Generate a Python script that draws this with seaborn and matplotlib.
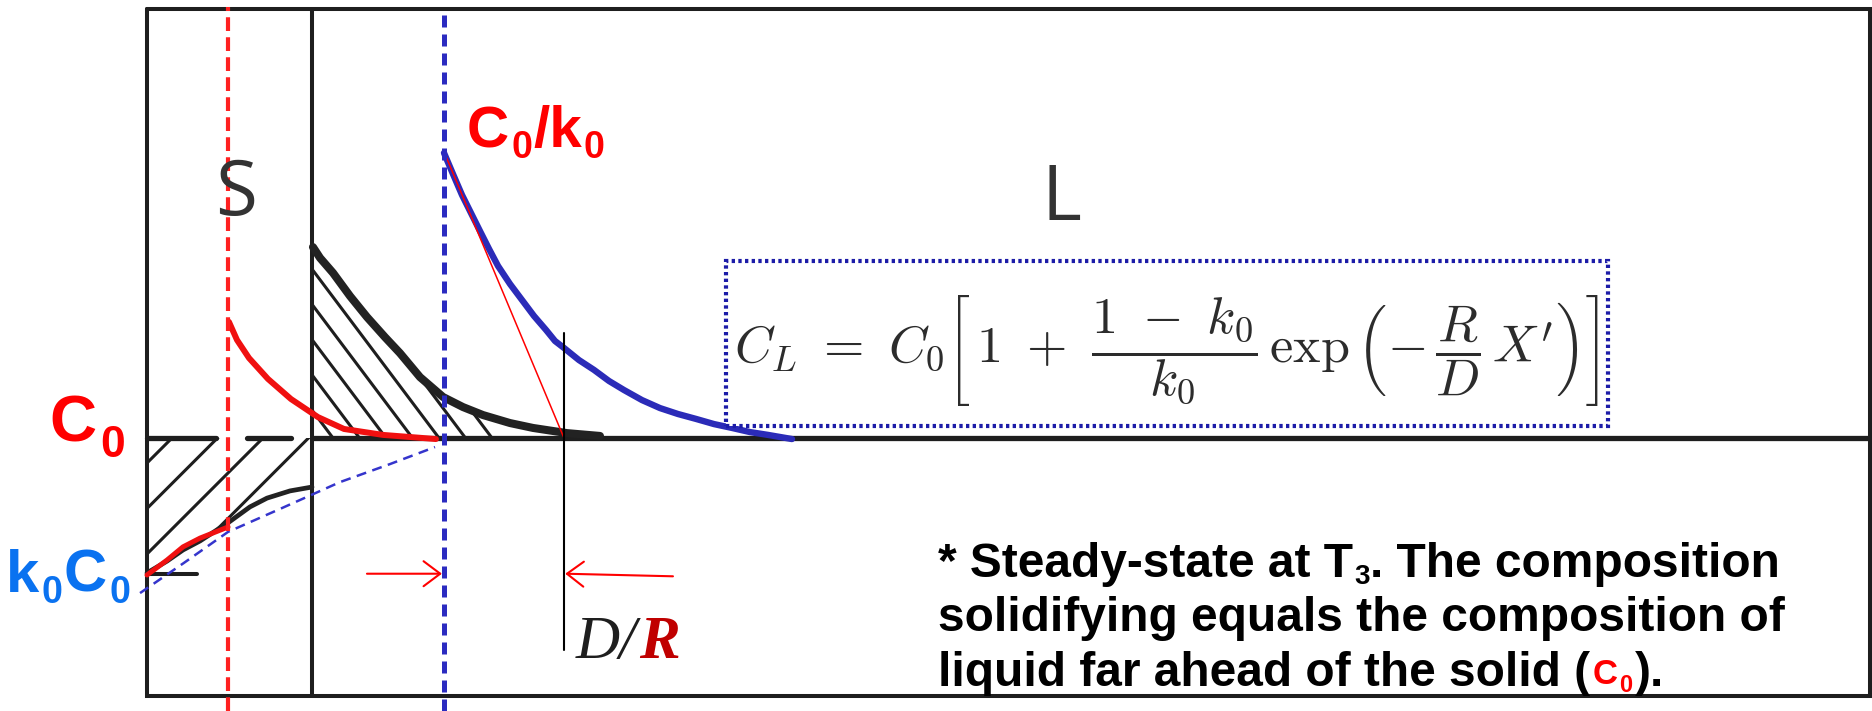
import numpy as np
import matplotlib
matplotlib.use("Agg")
import matplotlib.pyplot as plt
from matplotlib.patches import Rectangle
import seaborn as sns

# Concentration profiles for steady-state solidification.
# Distance X' is measured from the solid/liquid interface in units of D/R,
# concentration is given in units of the alloy composition C0.
C0 = 1.0
k0 = 0.474

# steady-state liquid profile ahead of the interface
liquid_x = [0.0, 0.075, 0.15, 0.225, 0.30, 0.375, 0.45, 0.55, 0.65, 0.75, 0.85, 0.925, 1.00,
            1.125, 1.25, 1.375, 1.50, 1.65, 1.80, 1.95, 2.10, 2.25, 2.40, 2.55, 2.70, 2.90]
liquid_c = [2.105, 2.023, 1.942, 1.872, 1.802, 1.733, 1.667, 1.597, 1.535, 1.473, 1.419, 1.376, 1.349,
            1.302, 1.264, 1.221, 1.186, 1.147, 1.116, 1.093, 1.074, 1.054, 1.039, 1.023, 1.012, 0.996]

# boundary layer drawn in the original sketch (hatched)
layer_x = [-1.092, -1.033, -0.925, -0.783, -0.642, -0.492, -0.367, -0.200, -0.008, 0.158, 0.325, 0.550, 0.742, 1.025, 1.300]
layer_c = [1.740, 1.698, 1.640, 1.550, 1.469, 1.391, 1.329, 1.236, 1.159, 1.120, 1.089, 1.058, 1.039, 1.019, 1.008]

# liquid profile ahead of the earlier interface position
earlier_x = [-1.792, -1.725, -1.625, -1.467, -1.275, -1.050, -0.833, -0.508, -0.067]
earlier_c = [1.450, 1.380, 1.310, 1.229, 1.151, 1.081, 1.035, 1.012, 0.996]

# composition of the solid during the initial transient
solid_red_x = [-2.475, -2.308, -2.175, -2.033, -1.800]
solid_red_c = [0.469, 0.527, 0.578, 0.612, 0.655]
solid_black_x = [-2.475, -2.308, -2.175, -2.033, -1.792, -1.617, -1.475, -1.283, -1.100]
solid_black_c = [0.477, 0.523, 0.566, 0.601, 0.674, 0.733, 0.767, 0.795, 0.810]

# guide from k0C0 up to the interface
guide_x = [-2.533, -2.167, -1.800, -1.367, -0.867, -0.450, -0.075]
guide_c = [0.399, 0.516, 0.636, 0.725, 0.829, 0.899, 0.965]

# ---- layout of the sketch (same units) ----
X_LEFT, X_RIGHT, C_TOP = -2.475, 11.88, 2.663
X_OLD_FRONT = -1.10
X_MARK = -1.80
X_FRONT = 0.0
X_DR = 1.0
XLIM = (-3.7, 11.9)
YLIM = (-0.0581, 2.6977)
W, H = 1872, 711

sns.set_theme(style="white")
plt.rcParams["mathtext.fontset"] = "cm"
plt.rcParams["font.family"] = ["Liberation Sans", "DejaVu Sans"]

fig = plt.figure(figsize=(W / 100, H / 100), dpi=100)
fig.patch.set_facecolor("white")
ax = fig.add_axes([0, 0, 1, 1])
ax.set_xlim(*XLIM)
ax.set_ylim(*YLIM)
ax.axis("off")
renderer = fig.canvas.get_renderer()

INK = "#1e1e1e"

# frame and the old interface line
ax.plot([X_LEFT, X_RIGHT, X_RIGHT, X_LEFT, X_LEFT], [C_TOP, C_TOP, 0, 0, C_TOP],
        color=INK, lw=2.9, solid_joinstyle="miter", zorder=2)
ax.plot([X_OLD_FRONT, X_OLD_FRONT], [0, C_TOP], color=INK, lw=2.9, zorder=2)

# C0 level: broken inside the solid, continuous in the liquid
for a, b in [(X_LEFT, -1.90), (-1.642, -1.275), (X_OLD_FRONT, X_RIGHT)]:
    ax.plot([a, b], [C0, C0], color=INK, lw=3.8, zorder=2)
# k0C0 tick in the solid
ax.plot([X_LEFT, -2.058], [k0 * C0, k0 * C0], color=INK, lw=2.9, zorder=2)


def hatch(x, lower, upper, slope_px, spacing_px, start_px, count):
    """Parallel hatch lines clipped to the band between two profiles."""
    band = ax.fill_between(x, lower, upper, facecolor="none", edgecolor="none")
    clip = band.get_paths()[0]
    m = -slope_px * 120.0 / 258.0
    xs = np.array(XLIM)
    for i in range(count):
        x0 = (start_px + i * spacing_px - 444.0) / 120.0
        ln, = ax.plot(xs, C0 + m * (xs - x0), color=INK, lw=2.2, zorder=2)
        ln.set_clip_path(clip, ax.transData)


hatch(layer_x, [C0] * len(layer_x), layer_c, 1.33, 26.5, 333, 7)
hatch(solid_black_x, solid_black_c, [C0] * len(solid_black_x), -1.0, 45.5, 172, 4)

# profiles
sns.lineplot(x=layer_x, y=layer_c, ax=ax, color="#222222", linewidth=5.8,
             sort=False, estimator=None, solid_capstyle="round", zorder=3)
sns.lineplot(x=solid_black_x, y=solid_black_c, ax=ax, color="#222222", linewidth=3.4,
             sort=False, estimator=None, solid_capstyle="round", zorder=3)
sns.lineplot(x=earlier_x, y=earlier_c, ax=ax, color="#f01010", linewidth=4.3,
             sort=False, estimator=None, solid_capstyle="round", zorder=4)
sns.lineplot(x=solid_red_x, y=solid_red_c, ax=ax, color="#f01010", linewidth=3.6,
             sort=False, estimator=None, solid_capstyle="round", zorder=4)
sns.lineplot(x=liquid_x, y=liquid_c, ax=ax, color="#2b2bb8", linewidth=4.6,
             sort=False, estimator=None, solid_capstyle="round", zorder=4)
ax.plot(guide_x, guide_c, color="#3535cc", lw=1.8, dashes=(4, 2.6), zorder=4)

# tangent at the interface reaching C0 after D/R
ax.plot([X_FRONT, X_DR], [C0 / k0, C0], color="#ff0000", lw=1.1, zorder=5)

# vertical markers
ax.plot([X_MARK, X_MARK], [YLIM[0], 2.671], color="#ff2020", lw=3.0, dashes=(3.3, 1.5), zorder=5)
ax.plot([X_FRONT, X_FRONT], [YLIM[0], 2.647], color="#2b2bc0", lw=3.6, dashes=(2.4, 1.4), zorder=5)
ax.plot([X_DR, X_DR], [0.178, 1.407], color="black", lw=1.5, zorder=5)

# D/R dimension arrows
arrow = dict(arrowstyle="->,head_length=0.6,head_width=0.45", color="#ff0000",
             lw=1.5, mutation_scale=20, shrinkA=0, shrinkB=0)
ax.annotate("", xy=(X_FRONT - 0.017, k0 * C0), xytext=(-0.642, k0 * C0), arrowprops=arrow, zorder=6)
ax.annotate("", xy=(X_DR + 0.01, k0 * C0), xytext=(1.908, k0 * C0 - 0.01), arrowprops=arrow, zorder=6)

# equation box
ax.add_patch(Rectangle((2.35, 1.047), 9.70 - 2.35, 1.686 - 1.047, facecolor="white",
                       edgecolor="#1c1ca8", lw=3.0, linestyle=(0, (0.8, 0.8)), zorder=6))
eq = fig.text(1166 / W, 1 - 350 / H,
              r"$C_L\ =\ C_0\left[\,1\ +\ \dfrac{1\ -\ k_0}{k_0}\,\exp\left(-\,\dfrac{R}{D}\,X^{\prime}\right)\right]$",
              ha="center", va="center", fontsize=34, color="#2c2c2c", zorder=7)
eq.set_fontsize(34 * 866.0 / eq.get_window_extent(renderer).width)


def runs(x_px, y_px, parts, family, weight="bold", style="normal"):
    """Write consecutive text pieces along a baseline (pixel positions)."""
    cur = x_px
    for s, size, color, dy, gap in parts:
        t = fig.text((cur + gap) / W, 1 - (y_px + dy) / H, s, fontsize=size, color=color,
                     family=family, weight=weight, style=style, ha="left", va="baseline", zorder=8)
        cur = t.get_window_extent(renderer).x1


SANS = ["Liberation Sans", "DejaVu Sans"]
SERIF = ["Liberation Serif", "DejaVu Serif"]
RED = "#ff0000"
BLUE = "#0a72f0"

# concentration labels
runs(49, 442, [("C", 47, RED, 0, 0), ("0", 32, RED, 15, 4)], SANS)
runs(6, 592, [("k", 43, BLUE, 0, 0), ("0", 27, BLUE, 11, 2),
              ("C", 43, BLUE, 0, 1), ("0", 27, BLUE, 11, 3)], SANS)
runs(467, 147, [("C", 42, RED, 0, 0), ("0", 27, RED, 11, 2),
                ("/k", 42, RED, 0, 1), ("0", 27, RED, 11, 2)], SANS)

# D/R label: italic D, bold italic red R
runs(576, 658, [("D/", 44, "#1e1e1e", 0, 0)], SERIF, weight="normal", style="italic")
tmp = fig.text(576 / W, 1 - 658 / H, "D/", fontsize=44, family=SERIF, style="italic", alpha=0)
xr = tmp.get_window_extent(renderer).x1
fig.text((xr + 2) / W, 1 - 658 / H, "R", fontsize=44, family=SERIF,
         style="italic", weight="bold", color="#c00000", va="baseline", zorder=8)

# phase labels
fig.text(236 / W, 1 - 195 / H, "S", fontsize=55, family=["Open Sans", "DejaVu Sans"],
         color="#333333", ha="center", va="center")
fig.text(1061 / W, 1 - 200 / H, "L", fontsize=55, family=["Open Sans", "DejaVu Sans"],
         color="#333333", ha="center", va="center")

# note
runs(938, 577, [("* Steady-state at T", 34.5, "black", 0, 0), ("3", 20, "black", 7, 1),
                (". The composition", 34.5, "black", 0, 1)], SANS)
runs(938, 631, [("solidifying equals the composition of", 34.5, "black", 0, 0)], SANS)
runs(938, 686, [("liquid far ahead of the solid (", 34.5, "black", 0, 0),
                ("C", 25, RED, -2, 3), ("0", 17, RED, 6, 1),
                (").", 34.5, "black", 0, 3)], SANS)

fig.savefig("out.png", dpi=100, facecolor="white")
